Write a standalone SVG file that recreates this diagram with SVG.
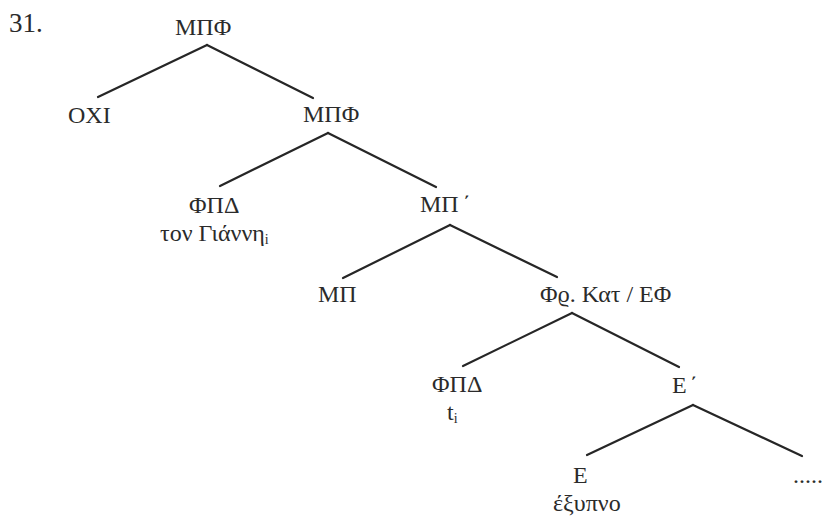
<svg xmlns="http://www.w3.org/2000/svg" width="825" height="516" viewBox="0 0 825 516">
<style>
text{font-family:'Liberation Serif','Times New Roman',Tinos,'DejaVu Serif',serif;fill:#2b2b2b}
.lbl{font-size:24px}
.num{font-size:27px}
.sub{font-size:14px}
.edge{stroke:#262626;stroke-width:2.2;stroke-linecap:round;fill:none}
</style>
<rect width="825" height="516" fill="#ffffff"/>
<text class="num" x="9" y="32">31.</text>
<g id="connectors">
<line class="edge" x1="207" y1="45" x2="98" y2="97"/>
<line class="edge" x1="207" y1="45" x2="313" y2="98"/>
<line class="edge" x1="328" y1="133" x2="220" y2="186"/>
<line class="edge" x1="328" y1="133" x2="436" y2="187"/>
<line class="edge" x1="450" y1="225" x2="343" y2="278"/>
<line class="edge" x1="450" y1="225" x2="557" y2="277"/>
<line class="edge" x1="572" y1="313" x2="463" y2="366"/>
<line class="edge" x1="572" y1="313" x2="679" y2="367"/>
<line class="edge" x1="693" y1="405" x2="587" y2="455"/>
<line class="edge" x1="693" y1="405" x2="802" y2="456"/>
</g>
<g id="n-root"><text class="lbl" x="175" y="35">ΜΠΦ</text></g>
<g id="n-oxi"><text class="lbl" x="68" y="123">ΟΧΙ</text></g>
<g id="n-mpf2"><text class="lbl" x="303" y="122">ΜΠΦ</text></g>
<g id="n-fpd1"><text class="lbl" x="189" y="213">ΦΠΔ</text><text class="lbl" x="160" y="241">τον Γιάννη<tspan class="sub" dy="3">i</tspan></text></g>
<g id="n-mpbar"><text class="lbl" x="420" y="212">ΜΠ<tspan dx="4">΄</tspan></text></g>
<g id="n-mp"><text class="lbl" x="318" y="302">ΜΠ</text></g>
<g id="n-fr"><text class="lbl" x="540" y="302">Φϱ. Κατ / ΕΦ</text></g>
<g id="n-fpd2"><text class="lbl" x="432" y="392">ΦΠΔ</text><text class="lbl" x="447" y="420">t<tspan class="sub" dy="3">i</tspan></text></g>
<g id="n-ebar"><text class="lbl" x="672" y="393">Ε<tspan dx="3">΄</tspan></text></g>
<g id="n-e"><text class="lbl" x="573" y="483">Ε</text><text class="lbl" x="553" y="511">έξυπνο</text></g>
<g id="n-dots"><text class="lbl" x="793" y="483">.....</text></g>
</svg>
